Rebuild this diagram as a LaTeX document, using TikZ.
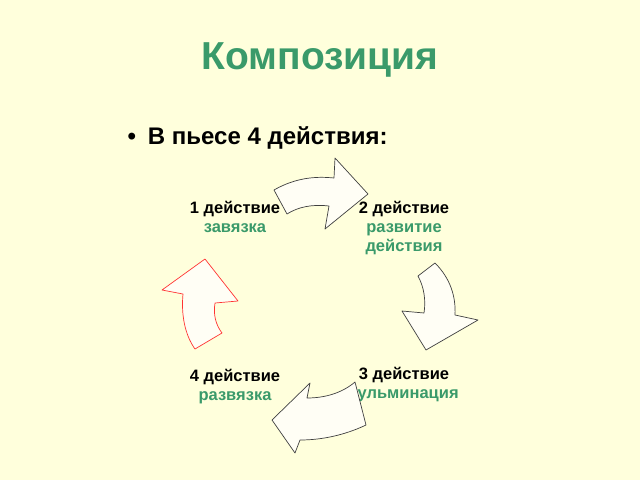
\documentclass[tikz,border=0pt]{standalone}
\usepackage{fontspec}
\setmainfont{Liberation Sans}
\usetikzlibrary{positioning}
\definecolor{bgyellow}{HTML}{FFFFDC}
\definecolor{titlegreen}{HTML}{3A9A6A}
\definecolor{labgreen}{HTML}{3A9A6A}
\tikzset{
  blockarrow/.style={draw=black!75, fill=white!96!yellow, line width=0.7pt, line join=round},
  stage/.style={font=\fontsize{16.5}{18}\selectfont\bfseries, align=center, inner sep=0pt},
}
\begin{document}
\begin{tikzpicture}[x=1pt, y=-1pt]
    % Background.
    \fill[bgyellow] (0,0) rectangle (640,480);
    \useasboundingbox (0,0) rectangle (640,480);

    % Title and bullet.
    \node[text=titlegreen, font=\fontsize{39}{44}\selectfont\bfseries] (title) at (320,60) {Композиция};
    \node[font=\fontsize{24}{28}\selectfont\bfseries, anchor=west] (intro) at (124,138) {•\hspace{12pt}В пьесе 4 действия:};

    % Stage labels.
    \node[stage] (s1) at (235,217) {1 действие\\[1pt]\textcolor{labgreen}{завязка}};
    \node[stage] (s2) at (404,228) {2 действие\\[1pt]\textcolor{labgreen}{развитие}\\[1pt]\textcolor{labgreen}{действия}};
    \node[stage] (s3) at (404,385) {3 действие\\[1pt]\textcolor{labgreen}{кульминация}};
    \node[stage] (s4) at (235,387) {4 действие\\[1pt]\textcolor{labgreen}{развязка}};

    % Curved block arrows.
    \draw[blockarrow] (274,190) .. controls (295,178) and (315,176) .. (334,178)
        -- (335,158) -- (368,194) -- (325,229) -- (329,206)
        .. controls (312,204) and (298,207) .. (287,214) -- cycle;
    \draw[blockarrow] (435,263) .. controls (450,278) and (456,296) .. (455,315)
        -- (478,320) -- (426,350) -- (402,311) -- (424,313)
        .. controls (426,300) and (424,287) .. (418,276) -- cycle;
    \draw[blockarrow] (366,425) .. controls (345,435) and (322,440) .. (300,440)
        -- (295,453) -- (272,420) -- (310,383) -- (307,398)
        .. controls (325,398) and (342,393) .. (355,382) -- cycle;
    \draw[blockarrow, draw=red!80] (195,349) .. controls (185,335) and (181,315) .. (183,294)
        -- (162,290) -- (205,259) -- (238,301) -- (215,303)
        .. controls (213,315) and (216,325) .. (222,333) -- cycle;
\end{tikzpicture}
\end{document}
